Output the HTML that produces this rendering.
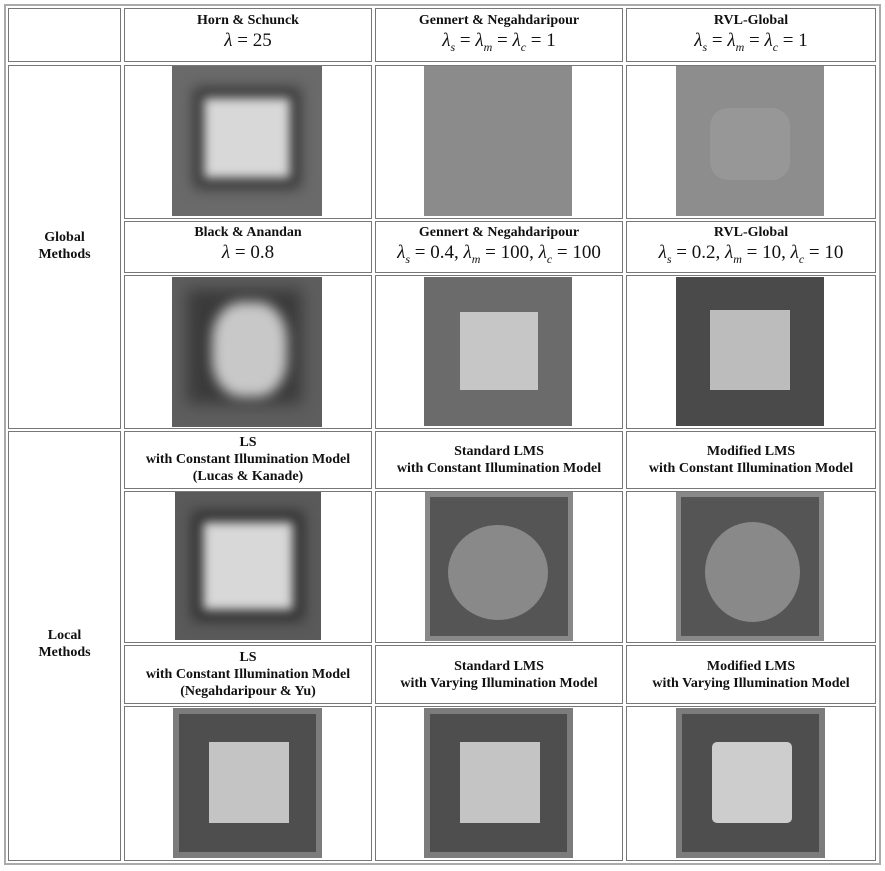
<!DOCTYPE html>
<html><head><meta charset="utf-8"><style>
body{margin:0;width:885px;height:871px;background:#fff;position:relative;overflow:hidden;font-family:"Liberation Serif",serif}
.o{position:absolute;left:4px;top:4px;width:873px;height:857px;border:2px solid #aaa}
.c{position:absolute;border:1px solid #777;box-sizing:border-box}
.t{position:absolute;text-align:center;font-weight:bold;font-size:14px;line-height:17px;color:#111}
.m{font-weight:normal;font-size:19px;font-style:normal;line-height:23px}
.m i{font-style:italic}
.im{position:absolute;overflow:hidden}
.sq{position:absolute}
</style></head><body>
<div class="o"></div>
<div class="c" style="left:8px;top:8px;width:113px;height:54px"></div>
<div class="c" style="left:124px;top:8px;width:248px;height:54px"></div>
<div class="c" style="left:375px;top:8px;width:248px;height:54px"></div>
<div class="c" style="left:626px;top:8px;width:250px;height:54px"></div>
<div class="t" style="left:124px;top:12px;width:248px">Horn &amp; Schunck<br><span class="m"><i>λ</i> = 25</span></div>
<div class="t" style="left:375px;top:12px;width:248px">Gennert &amp; Negahdaripour<br><span class="m"><i>λ<sub style="font-size:12px">s</sub></i> = <i>λ<sub style="font-size:12px">m</sub></i> = <i>λ<sub style="font-size:12px">c</sub></i> = 1</span></div>
<div class="t" style="left:626px;top:12px;width:250px">RVL-Global<br><span class="m"><i>λ<sub style="font-size:12px">s</sub></i> = <i>λ<sub style="font-size:12px">m</sub></i> = <i>λ<sub style="font-size:12px">c</sub></i> = 1</span></div>

<div class="c" style="left:8px;top:65px;width:113px;height:364px"></div>
<div class="t" style="left:8px;top:229px;width:113px">Global<br>Methods</div>
<div class="c" style="left:124px;top:65px;width:248px;height:154px"></div>
<div class="c" style="left:375px;top:65px;width:248px;height:154px"></div>
<div class="c" style="left:626px;top:65px;width:250px;height:154px"></div>
<div class="im" style="left:172px;top:66px;width:150px;height:150px;background:#6a6a6a"><div class="sq" style="left:22px;top:22px;width:106px;height:100px;background:#333;filter:blur(7px)"></div><div class="sq" style="left:32px;top:32px;width:86px;height:80px;background:#d8d8d8;filter:blur(5px)"></div></div>
<div class="im" style="left:424px;top:66px;width:148px;height:150px;background:#8b8b8b"></div>
<div class="im" style="left:676px;top:66px;width:148px;height:150px;background:#8d8d8d"><div class="sq" style="left:34px;top:42px;width:80px;height:72px;border-radius:18px;background:#979797"></div></div>

<div class="c" style="left:124px;top:221px;width:248px;height:52px"></div>
<div class="c" style="left:375px;top:221px;width:248px;height:52px"></div>
<div class="c" style="left:626px;top:221px;width:250px;height:52px"></div>
<div class="t" style="left:124px;top:224px;width:248px">Black &amp; Anandan<br><span class="m"><i>λ</i> = 0.8</span></div>
<div class="t" style="left:375px;top:224px;width:248px">Gennert &amp; Negahdaripour<br><span class="m"><i>λ<sub style="font-size:12px">s</sub></i> = 0.4, <i>λ<sub style="font-size:12px">m</sub></i> = 100, <i>λ<sub style="font-size:12px">c</sub></i> = 100</span></div>
<div class="t" style="left:626px;top:224px;width:250px">RVL-Global<br><span class="m"><i>λ<sub style="font-size:12px">s</sub></i> = 0.2, <i>λ<sub style="font-size:12px">m</sub></i> = 10, <i>λ<sub style="font-size:12px">c</sub></i> = 10</span></div>

<div class="c" style="left:124px;top:275px;width:248px;height:154px"></div>
<div class="c" style="left:375px;top:275px;width:248px;height:154px"></div>
<div class="c" style="left:626px;top:275px;width:250px;height:154px"></div>
<div class="im" style="left:172px;top:277px;width:150px;height:150px;background:#5e5e5e"><div class="sq" style="left:15px;top:12px;width:115px;height:115px;background:#3a3a3a;filter:blur(8px)"></div><div class="sq" style="left:40px;top:25px;width:75px;height:95px;border-radius:40%;background:#c8c8c8;filter:blur(6px)"></div></div>
<div class="im" style="left:424px;top:277px;width:148px;height:149px;background:#6b6b6b"><div class="sq" style="left:36px;top:35px;width:78px;height:78px;background:#c6c6c6"></div></div>
<div class="im" style="left:676px;top:277px;width:148px;height:149px;background:#4a4a4a"><div class="sq" style="left:34px;top:33px;width:80px;height:80px;background:#bcbcbc"></div></div>

<div class="c" style="left:8px;top:431px;width:113px;height:430px"></div>
<div class="t" style="left:8px;top:627px;width:113px">Local<br>Methods</div>
<div class="c" style="left:124px;top:431px;width:248px;height:58px"></div>
<div class="c" style="left:375px;top:431px;width:248px;height:58px"></div>
<div class="c" style="left:626px;top:431px;width:250px;height:58px"></div>
<div class="t" style="left:124px;top:434px;width:248px">LS<br>with Constant Illumination Model<br>(Lucas &amp; Kanade)</div>
<div class="t" style="left:375px;top:443px;width:248px">Standard LMS<br>with Constant Illumination Model</div>
<div class="t" style="left:626px;top:443px;width:250px">Modified LMS<br>with Constant Illumination Model</div>

<div class="c" style="left:124px;top:491px;width:248px;height:152px"></div>
<div class="c" style="left:375px;top:491px;width:248px;height:152px"></div>
<div class="c" style="left:626px;top:491px;width:250px;height:152px"></div>
<div class="im" style="left:175px;top:492px;width:146px;height:148px;background:#5a5a5a"><div class="sq" style="left:18px;top:20px;width:110px;height:108px;background:#2a2a2a;filter:blur(7px)"></div><div class="sq" style="left:28px;top:30px;width:90px;height:88px;background:#d8d8d8;filter:blur(5px)"></div></div>
<div class="im" style="left:425px;top:492px;width:148px;height:149px;background:#555;border:5px solid #888;box-sizing:border-box"><div class="sq" style="left:18px;top:28px;width:100px;height:95px;border-radius:50%;background:#898989"></div></div>
<div class="im" style="left:676px;top:492px;width:148px;height:149px;background:#555;border:5px solid #888;box-sizing:border-box"><div class="sq" style="left:24px;top:25px;width:95px;height:100px;border-radius:50%;background:#898989"></div></div>

<div class="c" style="left:124px;top:645px;width:248px;height:59px"></div>
<div class="c" style="left:375px;top:645px;width:248px;height:59px"></div>
<div class="c" style="left:626px;top:645px;width:250px;height:59px"></div>
<div class="t" style="left:124px;top:649px;width:248px">LS<br>with Constant Illumination Model<br>(Negahdaripour &amp; Yu)</div>
<div class="t" style="left:375px;top:658px;width:248px">Standard LMS<br>with Varying Illumination Model</div>
<div class="t" style="left:626px;top:658px;width:250px">Modified LMS<br>with Varying Illumination Model</div>

<div class="c" style="left:124px;top:706px;width:248px;height:155px"></div>
<div class="c" style="left:375px;top:706px;width:248px;height:155px"></div>
<div class="c" style="left:626px;top:706px;width:250px;height:155px"></div>
<div class="im" style="left:173px;top:708px;width:149px;height:150px;background:#4e4e4e;border:6px solid #7c7c7c;box-sizing:border-box"><div class="sq" style="left:30px;top:28px;width:80px;height:81px;background:#c4c4c4"></div></div>
<div class="im" style="left:424px;top:708px;width:149px;height:150px;background:#4e4e4e;border:6px solid #7c7c7c;box-sizing:border-box"><div class="sq" style="left:30px;top:28px;width:80px;height:81px;background:#c4c4c4"></div></div>
<div class="im" style="left:676px;top:708px;width:149px;height:150px;background:#4e4e4e;border:6px solid #7c7c7c;box-sizing:border-box"><div class="sq" style="left:30px;top:28px;width:80px;height:81px;border-radius:5px;background:#cdcdcd"></div></div>
</body></html>
